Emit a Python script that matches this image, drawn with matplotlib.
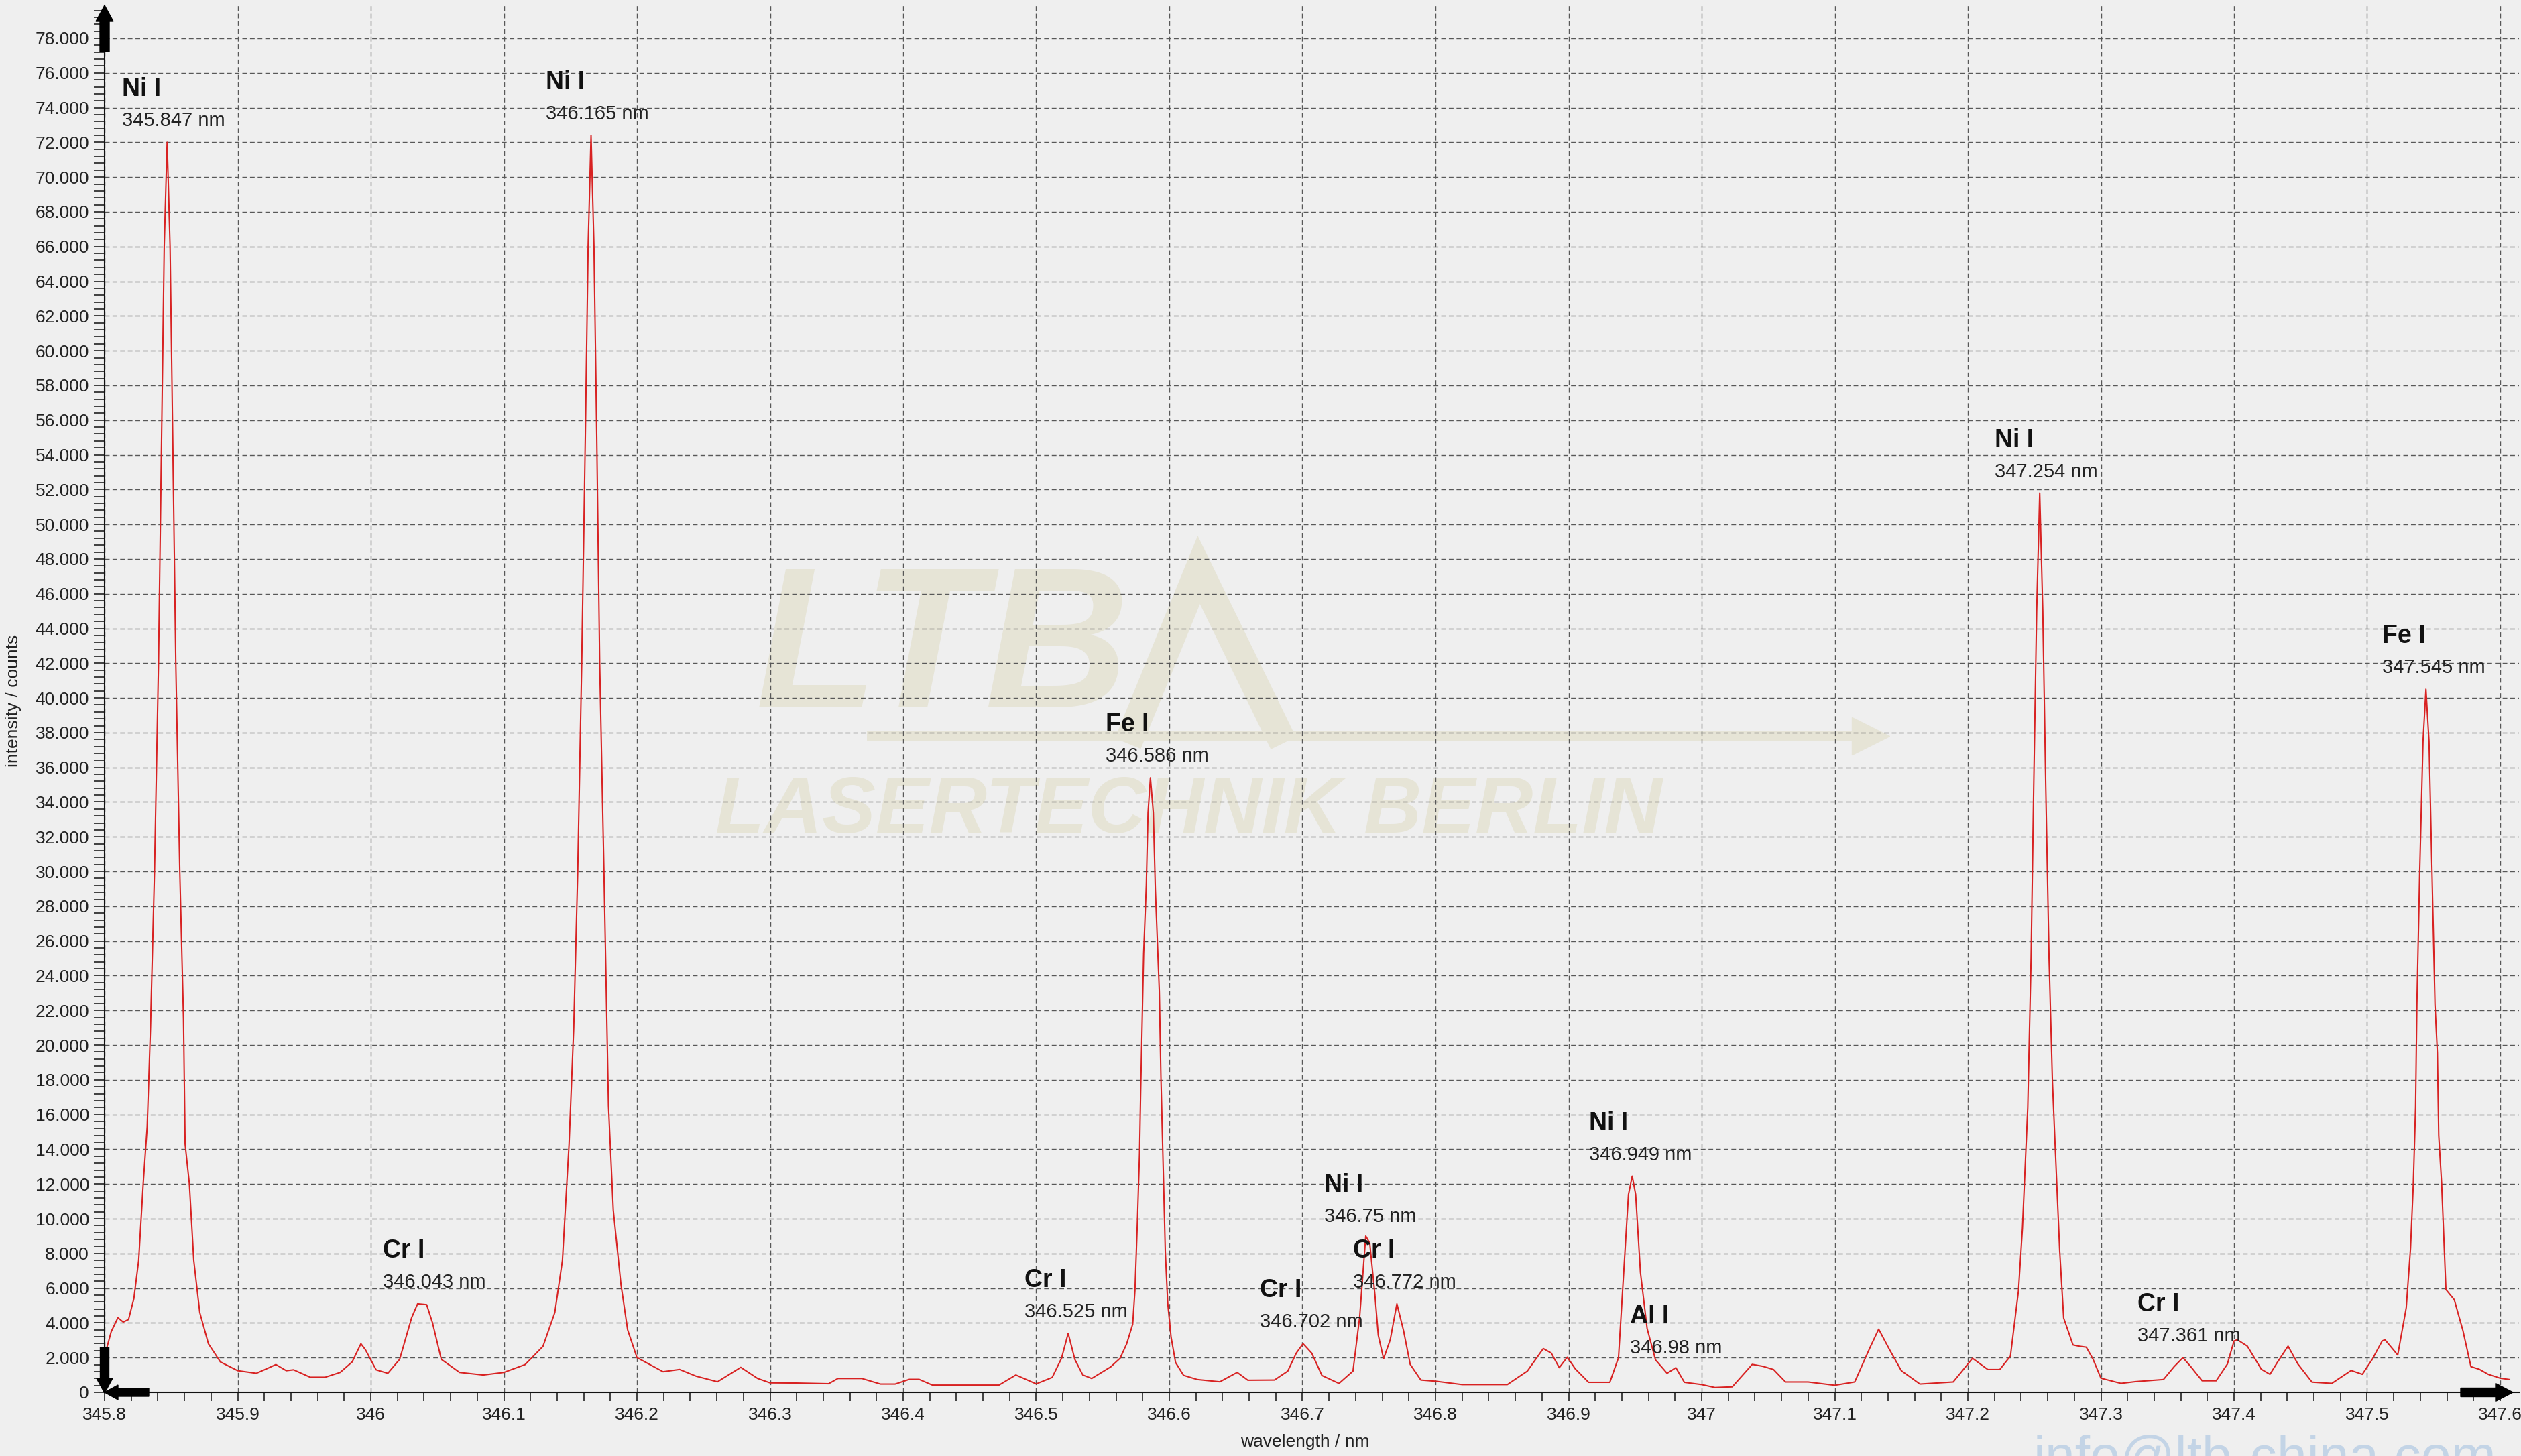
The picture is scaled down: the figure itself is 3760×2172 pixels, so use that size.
import matplotlib
matplotlib.use("Agg")
import matplotlib.pyplot as plt
from matplotlib.ticker import MultipleLocator, FuncFormatter, FixedLocator
from matplotlib.patches import FancyArrow
from matplotlib.transforms import Affine2D

plt.rcParams['font.family'] = ['Liberation Sans', 'DejaVu Sans']
plt.rcParams['lines.scale_dashes'] = False

W, H = 3760, 2172

# ----------------------------
# spectrum
# ----------------------------
wavelength = [
    345.800, 345.805, 345.810, 345.814, 345.818, 345.822, 345.8256, 345.829, 345.832,
    345.8345, 345.8375, 345.8405, 345.8428, 345.8448, 345.847, 345.8492, 345.8512,
    345.8535, 345.8565, 345.8593, 345.8605, 345.8637, 345.867, 345.8715, 345.878,
    345.887, 345.900, 345.914, 345.9215, 345.9287, 345.9365, 345.942, 345.9545,
    345.9657, 345.977, 345.986, 345.9926, 345.996, 346.004, 346.0128, 346.0217,
    346.0307, 346.0352, 346.042, 346.0464, 346.053, 346.0667, 346.0845, 346.100,
    346.116, 346.1294, 346.1383, 346.144, 346.1473, 346.149, 346.1525, 346.1555,
    346.1585, 346.1612, 346.1633, 346.1655, 346.1677, 346.1698, 346.172, 346.1752,
    346.1775, 346.1786, 346.1822, 346.188, 346.193, 346.200, 346.2196, 346.232,
    346.2445, 346.2605, 346.278, 346.2907, 346.300, 346.319, 346.344, 346.351,
    346.369, 346.383, 346.394, 346.4046, 346.412, 346.422, 346.472, 346.4847,
    346.500, 346.512, 346.519, 346.524, 346.529, 346.535, 346.5417, 346.556,
    346.563, 346.568, 346.5725, 346.5742, 346.576, 346.5776, 346.5785, 346.5797,
    346.5807, 346.5827, 346.584, 346.5858, 346.588, 346.5895, 346.5925, 346.5937,
    346.5954, 346.597, 346.5988, 346.6013, 346.6047, 346.6107, 346.621, 346.638,
    346.651, 346.659, 346.679, 346.689, 346.6954, 346.7005, 346.707, 346.7147,
    346.7275, 346.738, 346.743, 346.746, 346.7476, 346.7506, 346.7545, 346.757,
    346.761, 346.766, 346.771, 346.776, 346.781, 346.789, 346.800, 346.820,
    346.854, 346.869, 346.881, 346.887, 346.893, 346.899, 346.905, 346.915,
    346.931, 346.9375, 346.9414, 346.945, 346.9478, 346.9504, 346.954, 346.959,
    346.9653, 346.974, 346.9806, 346.987, 347.000, 347.010, 347.023, 347.038,
    347.046, 347.054, 347.063, 347.080, 347.100, 347.115, 347.1266, 347.133,
    347.141, 347.150, 347.164, 347.189, 347.2035, 347.215, 347.224, 347.232,
    347.238, 347.241, 347.245, 347.2475, 347.2495, 347.2517, 347.254, 347.2563,
    347.2585, 347.261, 347.2635, 347.265, 347.269, 347.272, 347.279, 347.2834,
    347.289, 347.294, 347.300, 347.315, 347.326, 347.347, 347.355, 347.3616,
    347.3675, 347.376, 347.3866, 347.395, 347.400, 347.4025, 347.410, 347.4205,
    347.427, 347.433, 347.4406, 347.448, 347.4586, 347.4735, 347.488, 347.4964,
    347.504, 347.5113, 347.5134, 347.523, 347.5294, 347.5326, 347.5347, 347.5364,
    347.5374, 347.5395, 347.542, 347.5442, 347.5465, 347.549, 347.551, 347.5528,
    347.5538, 347.556, 347.5592, 347.5655, 347.572, 347.578, 347.5843, 347.591,
    347.600, 347.607,
]
intensity = [
    2100, 3500, 4300, 4050, 4200, 5400, 7600, 12000, 15300,
    21000, 30000, 42000, 55000, 66000, 72000, 66000, 55000,
    42000, 30000, 21500, 14300, 12000, 7600, 4600, 2800,
    1750, 1250, 1100, 1350, 1600, 1250, 1300, 870,
    870, 1150, 1750, 2800, 2450, 1300, 1100, 1900,
    4300, 5100, 5050, 4000, 1900, 1150, 1000, 1150,
    1600, 2650, 4600, 7600, 12000, 14300, 21000, 30000,
    42000, 55000, 66000, 72400, 66000, 55000, 42000, 30000,
    21000, 16500, 10500, 6200, 3600, 2000, 1190, 1320,
    930, 610, 1440, 800, 550, 540, 500, 800,
    800, 480, 480, 750, 750, 420, 420, 1000,
    490, 860, 1960, 3400, 1900, 1000, 800, 1470,
    1960, 2800, 3930, 5890, 9800, 13740, 17400, 21600,
    25280, 29200, 33370, 35400, 33370, 29000, 23070, 18160,
    13000, 8100, 5150, 3200, 1720, 980, 740, 610,
    1150, 700, 710, 1225, 2260, 2800, 2260, 970,
    516, 1225, 4320, 7400, 9000, 8600, 5600, 3290,
    1935, 3030, 5100, 3550, 1610, 710, 645, 450,
    450, 1225, 2520, 2260, 1420, 2025, 1355, 580,
    580, 2000, 6900, 11400, 12450, 11400, 6900, 3680,
    1870, 1100, 1420, 580, 450, 280, 320, 1610,
    1500, 1315, 600, 600, 410, 600, 2600, 3640,
    2480, 1250, 480, 600, 1960, 1315, 1315, 2090,
    5830, 9440, 16400, 25000, 35000, 45000, 51800, 45000,
    35000, 25000, 18000, 15250, 8150, 4280, 2730, 2660,
    2600, 1920, 815, 520, 620, 740, 1480, 2000,
    1480, 670, 670, 1630, 2960, 3030, 2660, 1330,
    1040, 1780, 2660, 1630, 590, 520, 1260, 1040,
    1920, 2960, 3030, 2150, 4880, 8290, 12000, 16430,
    22350, 30000, 37500, 40500, 37500, 29000, 22350, 19540,
    14800, 12000, 5920, 5330, 3550, 1480, 1330, 1040,
    815, 740,
]

# labelled lines
peak_names = ["Ni I", "Cr I", "Ni I", "Cr I", "Fe I", "Cr I", "Ni I",
              "Cr I", "Ni I", "Al I", "Ni I", "Cr I", "Fe I"]
peak_wl = [345.847, 346.043, 346.165, 346.525, 346.586, 346.702, 346.75,
           346.772, 346.949, 346.98, 347.254, 347.361, 347.545]
peak_text = ["345.847 nm", "346.043 nm", "346.165 nm", "346.525 nm", "346.586 nm",
             "346.702 nm", "346.75 nm", "346.772 nm", "346.949 nm", "346.98 nm",
             "347.254 nm", "347.361 nm", "347.545 nm"]
peak_height = [72000, 5100, 72400, 3400, 35400, 2800, 8900,
               5100, 12450, 1300, 51800, 2000, 40500]

bg = "#efefef"
fig = plt.figure(figsize=(W / 100, H / 100), dpi=100, facecolor=bg)
ax = fig.add_axes([156 / W, 95 / H, (3757 - 156) / W, (2164 - 95) / H])
ax.set_facecolor(bg)
px = Affine2D().scale(1 / W, 1 / H) + fig.transFigure  # pixel coords, origin bottom-left

# watermark (LTB logo)
wm = "#e6e4d6"
ax.text(1127, H - 1055, "LTB", transform=px, fontsize=215, fontweight="bold",
        fontstyle="italic", color=wm, zorder=0.2, va="baseline")
ax.plot([1690, 1788, 1905], [H - 1090, H - 850, H - 1090], transform=px,
        color=wm, lw=30, zorder=0.2, clip_on=False, solid_joinstyle="miter")
ax.plot([1300, 2790], [H - 1098, H - 1098], transform=px, color=wm, lw=10,
        zorder=0.2, clip_on=False)
ax.plot([2790], [H - 1098], transform=px, marker=">", ms=40, color=wm,
        zorder=0.2, clip_on=False)
ax.text(1067, H - 1242, "LASERTECHNIK BERLIN", transform=px, fontsize=86,
        fontweight="bold", fontstyle="italic", color=wm, zorder=0.2, va="baseline")

# spectrum
ax.plot(wavelength, intensity, color="#d82222", lw=1.5, zorder=3)

for name, wl, txt, h in zip(peak_names, peak_wl, peak_text, peak_height):
    ax.annotate(name, xy=(wl, h), xytext=(-67, 69), textcoords="offset pixels",
                fontsize=27, fontweight="bold", color="#111111", va="baseline", zorder=5)
    ax.annotate(txt, xy=(wl, h), xytext=(-67, 24), textcoords="offset pixels",
                fontsize=21, color="#222222", va="baseline", zorder=5)

ax.set_xlim(345.8, 345.8 + 3601 / 1985)
ax.set_ylim(0, 2069 / ((2077 - 57) / 78000))

ax.xaxis.set_major_locator(FixedLocator([345.8 + 0.1 * i for i in range(19)]))
ax.xaxis.set_minor_locator(MultipleLocator(0.02))
ax.yaxis.set_major_locator(FixedLocator(list(range(0, 78001, 2000))))
ax.yaxis.set_minor_locator(MultipleLocator(400))
ax.xaxis.set_major_formatter(FuncFormatter(lambda v, p: f"{round(v, 1):g}"))
ax.yaxis.set_major_formatter(
    FuncFormatter(lambda v, p: "0" if v == 0 else f"{int(round(v)):,}".replace(",", ".")))

ax.tick_params(axis="y", which="both", direction="out", length=11.5, width=1.1,
               color="#111111", labelsize=19, pad=5, labelcolor="#222222")
ax.tick_params(axis="x", which="both", direction="out", length=9, width=1.1,
               color="#111111", labelsize=19, pad=7, labelcolor="#222222")

ax.set_axisbelow(True)
ax.grid(True, which="major", color="#585858", lw=1.0, linestyle=(0, (5, 3.2)))

for s in ["top", "right"]:
    ax.spines[s].set_visible(False)
for s in ["left", "bottom"]:
    ax.spines[s].set_linewidth(1.5)
    ax.spines[s].set_color("#111111")

# axis arrows
arrows = [
    (156, H - 77, 0, 69, 14, 26, 24),
    (3670, 95, 78, 0, 13, 27, 26),
    (156, H - 2010, 0, -68, 13, 24, 22),
    (222, 95, -66, 0, 12, 22, 20),
]
for x0, y0, dx, dy, w, hw, hl in arrows:
    fig.add_artist(FancyArrow(x0, y0, dx, dy, width=w, head_width=hw, head_length=hl,
                              length_includes_head=True, transform=px,
                              color="#000000", zorder=10))

fig.text(20 / W, 1 - 1045 / H, "intensity / counts", rotation=90, ha="center",
         va="center", fontsize=19, color="#222222")
fig.text(1946 / W, 1 - 2151 / H, "wavelength / nm", ha="center", va="center",
         fontsize=19, color="#222222")

# cut-off mail watermark at the bottom right
fig.text(3033 / W, (H - 2199) / H, "info@ltb-china.com", fontsize=58,
         color="#c3d4e6", va="baseline", ha="left")

fig.savefig("out.png", dpi=100, facecolor=bg)
